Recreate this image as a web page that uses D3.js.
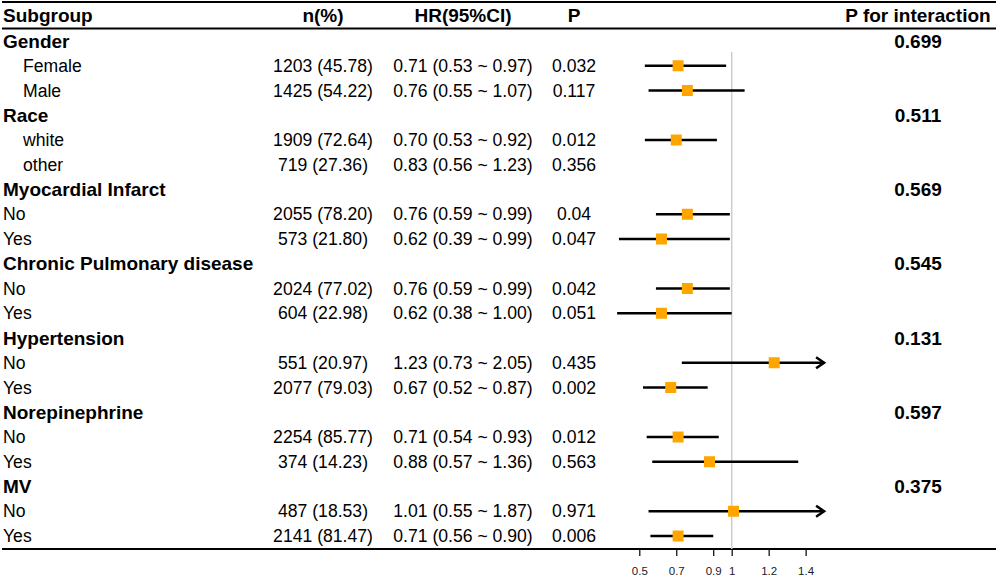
<!DOCTYPE html>
<html>
<head>
<meta charset="utf-8">
<script src="https://cdn.jsdelivr.net/npm/d3@7"></script>
<style>
  body { margin: 0; background: #fff; }
  text { font-family: "Liberation Sans", Arial, sans-serif; }
</style>
</head>
<body>
<div id="myVis"></div>
<script>
var w = 996;
var h = 579;

// Table rows
var labels = ["Gender", "Female", "Male", "Race", "white", "other",
  "Myocardial Infarct", "No", "Yes", "Chronic Pulmonary disease", "No", "Yes",
  "Hypertension", "No", "Yes", "Norepinephrine", "No", "Yes", "MV", "No", "Yes"];
var isGroup = [1, 0, 0, 1, 0, 0, 1, 0, 0, 1, 0, 0, 1, 0, 0, 1, 0, 0, 1, 0, 0];
var indented = [0, 1, 1, 0, 1, 1, 0, 0, 0, 0, 0, 0, 0, 0, 0, 0, 0, 0, 0, 0, 0];
var nText = ["", "1203 (45.78)", "1425 (54.22)", "", "1909 (72.64)", "719 (27.36)",
  "", "2055 (78.20)", "573 (21.80)", "", "2024 (77.02)", "604 (22.98)",
  "", "551 (20.97)", "2077 (79.03)", "", "2254 (85.77)", "374 (14.23)",
  "", "487 (18.53)", "2141 (81.47)"];
var hrText = ["", "0.71 (0.53 ~ 0.97)", "0.76 (0.55 ~ 1.07)", "", "0.70 (0.53 ~ 0.92)", "0.83 (0.56 ~ 1.23)",
  "", "0.76 (0.59 ~ 0.99)", "0.62 (0.39 ~ 0.99)", "", "0.76 (0.59 ~ 0.99)", "0.62 (0.38 ~ 1.00)",
  "", "1.23 (0.73 ~ 2.05)", "0.67 (0.52 ~ 0.87)", "", "0.71 (0.54 ~ 0.93)", "0.88 (0.57 ~ 1.36)",
  "", "1.01 (0.55 ~ 1.87)", "0.71 (0.56 ~ 0.90)"];
var pText = ["", "0.032", "0.117", "", "0.012", "0.356",
  "", "0.04", "0.047", "", "0.042", "0.051",
  "", "0.435", "0.002", "", "0.012", "0.563",
  "", "0.971", "0.006"];
var pInteraction = ["0.699", "", "", "0.511", "", "", "0.569", "", "", "0.545", "", "",
  "0.131", "", "", "0.597", "", "", "0.375", "", ""];

// Forest values (null = group header)
var hr = [null, 0.71, 0.76, null, 0.70, 0.83, null, 0.76, 0.62, null, 0.76, 0.62,
  null, 1.23, 0.67, null, 0.71, 0.88, null, 1.01, 0.71];
var lower = [null, 0.53, 0.55, null, 0.53, 0.56, null, 0.59, 0.39, null, 0.59, 0.38,
  null, 0.73, 0.52, null, 0.54, 0.57, null, 0.55, 0.56];
var upper = [null, 0.97, 1.07, null, 0.92, 1.23, null, 0.99, 0.99, null, 0.99, 1.00,
  null, 2.05, 0.87, null, 0.93, 1.36, null, 1.87, 0.90];
// the "other" race row has no mark in the figure
var plotted = [0, 1, 1, 0, 1, 0, 0, 1, 1, 0, 1, 1, 0, 1, 1, 0, 1, 1, 0, 1, 1];

var headers = ["Subgroup", "n(%)", "HR(95%CI)", "P", "P for interaction"];
var xTicks = [0.5, 0.7, 0.9, 1, 1.2, 1.4];

var svg = d3.select("#myVis").append("svg")
  .attr("width", w)
  .attr("height", h);

var rows = d3.range(labels.length);
var yScale = d3.scalePoint()
  .domain(rows)
  .range([41, 536]);

var xScale = d3.scaleLinear()
  .domain([0.5, 1.5])
  .range([639.3, 824.1]);

var colN = 323, colHR = 463, colP = 574, colPI = 918;
var headY = 15;
var axisY = 549;
var boldSize = 19, plainSize = 17.6;

// Table rules
[2, 28.5, axisY].forEach(function(y) {
  svg.append("line")
    .attr("x1", 2).attr("x2", w)
    .attr("y1", y).attr("y2", y)
    .attr("stroke", "#000")
    .attr("stroke-width", 2);
});

// Header texts
var headerX = [3, colN, colHR, colP, colPI];
svg.selectAll(".head")
  .data(headers)
  .enter()
  .append("text")
  .attr("x", function(d, i) { return headerX[i]; })
  .attr("y", headY)
  .attr("dy", "0.35em")
  .attr("text-anchor", function(d, i) { return i === 0 ? "start" : "middle"; })
  .attr("font-size", boldSize)
  .attr("font-weight", "bold")
  .text(function(d) { return d; });

// Subgroup labels
svg.selectAll(".label")
  .data(rows)
  .enter()
  .append("text")
  .attr("x", function(i) { return indented[i] ? 23 : 3; })
  .attr("y", function(i) { return yScale(i); })
  .attr("dy", "0.35em")
  .attr("font-size", function(i) { return isGroup[i] ? boldSize : plainSize; })
  .attr("font-weight", function(i) { return isGroup[i] ? "bold" : "normal"; })
  .text(function(i) { return labels[i]; });

// Centered columns
function column(arr, x, bold) {
  svg.append("g").selectAll("text")
    .data(rows.filter(function(i) { return arr[i] !== ""; }))
    .enter()
    .append("text")
    .attr("x", x)
    .attr("y", function(i) { return yScale(i); })
    .attr("dy", "0.35em")
    .attr("text-anchor", "middle")
    .attr("font-size", bold ? boldSize : plainSize)
    .attr("font-weight", bold ? "bold" : "normal")
    .text(function(i) { return arr[i]; });
}
column(nText, colN, false);
column(hrText, colHR, false);
column(pText, colP, false);
column(pInteraction, colPI, true);

// Reference line at HR = 1
svg.append("line")
  .attr("x1", xScale(1)).attr("x2", xScale(1))
  .attr("y1", 52).attr("y2", axisY)
  .attr("stroke", "#cccccc")
  .attr("stroke-width", 1.5);

var xMax = xScale.domain()[1];
var marks = rows.filter(function(i) { return plotted[i]; });

// CI lines
svg.selectAll(".ci")
  .data(marks)
  .enter()
  .append("line")
  .attr("x1", function(i) { return xScale(lower[i]); })
  .attr("x2", function(i) { return xScale(Math.min(upper[i], xMax)); })
  .attr("y1", function(i) { return yScale(i); })
  .attr("y2", function(i) { return yScale(i); })
  .attr("stroke", "#000")
  .attr("stroke-width", 2.5);

// Arrow heads for clipped CIs
svg.selectAll(".arrow")
  .data(marks.filter(function(i) { return upper[i] > xMax; }))
  .enter()
  .append("path")
  .attr("d", function(i) {
    var x = xScale(xMax), y = yScale(i);
    return "M" + (x - 8) + "," + (y - 5.5) + "L" + x + "," + y + "L" + (x - 8) + "," + (y + 5.5);
  })
  .attr("fill", "none")
  .attr("stroke", "#000")
  .attr("stroke-width", 2.5);

// HR squares
var sq = 11;
svg.selectAll(".pt")
  .data(marks)
  .enter()
  .append("rect")
  .attr("x", function(i) { return xScale(hr[i]) - sq / 2; })
  .attr("y", function(i) { return yScale(i) - sq / 2; })
  .attr("width", sq)
  .attr("height", sq)
  .attr("fill", "#FFA500");

// X axis
var axis = svg.append("g")
  .attr("transform", "translate(0," + axisY + ")")
  .call(d3.axisBottom(xScale).tickValues(xTicks).tickSize(7).tickPadding(11)
    .tickFormat(function(d) { return String(d); }));
axis.select(".domain").remove();
axis.selectAll(".tick line").attr("stroke", "#000").attr("stroke-width", 1.2);
axis.selectAll(".tick text")
  .attr("font-family", "'Liberation Sans', Arial, sans-serif")
  .attr("font-size", 11.5)
  .attr("fill", "#1a1a2a");
</script>
</body>
</html>
